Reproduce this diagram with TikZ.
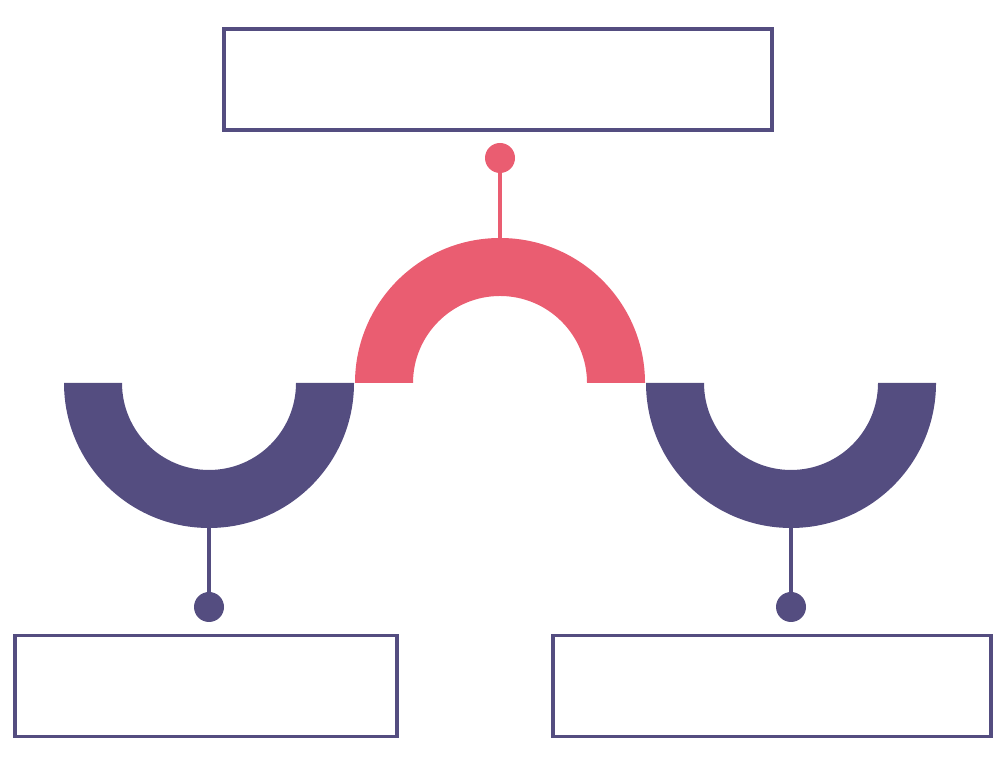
\documentclass[tikz,border=0pt]{standalone}
\usepackage{tkz-euclide}
\usepackage{tikz}
\definecolor{boxpurple}{HTML}{544D80}
\definecolor{arcred}{HTML}{EA5D71}
\begin{document}
\begin{tikzpicture}
    \useasboundingbox (0,0) rectangle (10,7.72);
    \tkzDefPoints{2.24/7.43/A,7.72/7.43/B,7.72/6.42/C,2.24/6.42/D}
    \tkzDefPoints{0.15/1.365/E,3.97/1.365/F,3.97/0.355/G,0.15/0.355/H}
    \tkzDefPoints{5.53/1.365/I,9.91/1.365/J,9.91/0.355/K,5.53/0.355/L}
    \tkzDefPoints{5/3.89/O,2.09/3.89/M,7.91/3.89/N}
    \tkzDefPoints{5/6.14/P,5/5.34/Q,2.09/1.65/S,2.09/2.44/R,7.91/1.65/U,7.91/2.44/T}
    % boxes
    \tkzDrawPolygon[color=boxpurple,line width=1.1pt,line join=miter](A,B,C,D)
    \tkzDrawPolygon[color=boxpurple,line width=1.1pt,line join=miter](E,F,G,H)
    \tkzDrawPolygon[color=boxpurple,line width=1.1pt,line join=miter](I,J,K,L)
    % half rings
    \fill[arcred] (O) ++(1.45,0) arc (0:180:1.45) -- ++(0.58,0) arc (180:0:0.87) -- cycle;
    \fill[boxpurple] (M) ++(-1.45,0) arc (180:360:1.45) -- ++(-0.58,0) arc (0:-180:0.87) -- cycle;
    \fill[boxpurple] (N) ++(-1.45,0) arc (180:360:1.45) -- ++(-0.58,0) arc (0:-180:0.87) -- cycle;
    % stems
    \tkzDrawSegments[color=arcred,line width=1.3pt](P,Q)
    \tkzDrawSegments[color=boxpurple,line width=1.3pt](S,R U,T)
    \fill[arcred] (P) circle (0.15);
    \fill[boxpurple] (S) circle (0.15);
    \fill[boxpurple] (U) circle (0.15);
\end{tikzpicture}
\end{document}
